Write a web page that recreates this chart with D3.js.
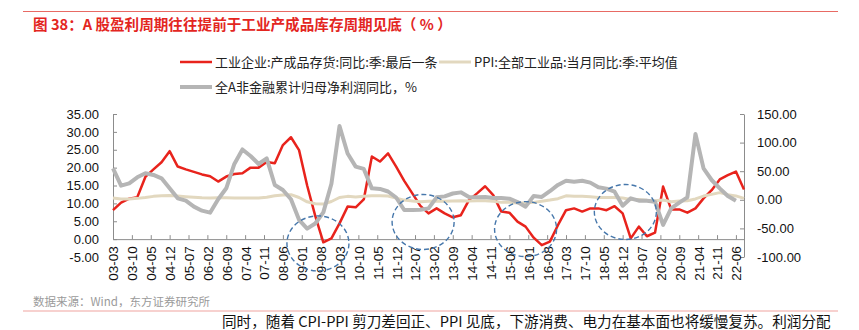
<!DOCTYPE html>
<html>
<head>
<meta charset="utf-8">
<script src="https://cdn.jsdelivr.net/npm/d3@7"></script>
<style>
  html, body { margin: 0; padding: 0; background: #fff; }
  svg { display: block; }
  .cjk { font-family: "Noto Sans CJK SC", "Noto Sans", sans-serif; }
  .num { font-family: "Liberation Sans", Arial, sans-serif; }
</style>
</head>
<body>
<svg id="chart" width="859" height="330"></svg>
<script>
// ---------------- DATA ----------------
const titleText = "图 38：A 股盈利周期往往提前于工业产成品库存周期见底（ % ）";
const seriesNames = ["工业企业:产成品存货:同比:季:最后一条", "PPI:全部工业品:当月同比:季:平均值", "全A非金融累计归母净利润同比，%"];
const sourceText = "数据来源：Wind，东方证券研究所";
const bottomText = "同时，随着 CPI-PPI 剪刀差回正、PPI 见底，下游消费、电力在基本面也将缓慢复苏。利润分配";

// quarterly categories (year-month)
const quarters = [
  "2003-03","2003-06","2003-09","2003-12","2004-03","2004-06","2004-09","2004-12",
  "2005-03","2005-06","2005-09","2005-12","2006-03","2006-06","2006-09","2006-12",
  "2007-03","2007-06","2007-09","2007-12","2008-03","2008-06","2008-09","2008-12",
  "2009-03","2009-06","2009-09","2009-12","2010-03","2010-06","2010-09","2010-12",
  "2011-03","2011-06","2011-09","2011-12","2012-03","2012-06","2012-09","2012-12",
  "2013-03","2013-06","2013-09","2013-12","2014-03","2014-06","2014-09","2014-12",
  "2015-03","2015-06","2015-09","2015-12","2016-03","2016-06","2016-09","2016-12",
  "2017-03","2017-06","2017-09","2017-12","2018-03","2018-06","2018-09","2018-12",
  "2019-03","2019-06","2019-09","2019-12","2020-03","2020-06","2020-09","2020-12",
  "2021-03","2021-06","2021-09","2021-12","2022-03","2022-06","2022-09"
];

// 工业企业:产成品存货:同比 (left axis)
const inventory = [
  8.1,10.2,11.3,11.7,17.4,19.5,21.5,24.6,
  20.3,19.5,18.8,18.1,17.6,16.1,17.5,18.2,
  18.4,20.0,20.0,21.6,21.2,26.3,28.5,24.9,
  15.0,6.5,-0.9,0.2,4.4,9.1,8.9,11.1,
  23.1,21.7,24.0,20.3,16.3,12.8,9.3,7.2,
  8.6,7.2,6.1,6.7,10.9,12.8,14.8,12.3,
  7.7,7.4,4.9,3.5,0.4,-1.7,-0.7,3.9,
  8.1,8.6,7.7,8.6,8.6,8.1,9.2,7.2,
  0.2,3.5,0.8,1.8,14.7,8.3,8.3,7.4,
  8.6,11.4,13.7,16.7,17.9,18.9,13.9
];

// PPI 季平均 (right axis)
const ppi = [
  3,1.5,1.5,2.5,4,6,7,7.5,
  6.5,5.5,4.5,3.5,3,3.5,3.5,3,
  3,3,3,4.5,7,8.5,9,4,
  -3.5,-7,-7.5,-3,4,6,5,6,
  7,7.2,6.5,3,-0.5,-2,-3.5,-2.5,
  -2,-2.5,-2,-1.5,-2,-1.5,-1.5,-2.5,
  -4.5,-4.5,-5.5,-5.5,-4.5,-2.5,-0.5,2,
  7,6,6,5.5,4,4,4,3,
  0.5,0.5,-0.8,-1.5,-0.5,-3.3,-2.2,-1.5,
  1.5,6.5,9.5,12.5,9,6.8,2.5
];

// 全A非金融累计归母净利润同比 (right axis), ends 2022-06
const profit = [
  55,24.7,28.8,39.3,46.3,43.4,37.6,20.1,
  2.6,-1.5,-12,-19,-22.5,0.9,20.1,62.6,
  88,76.6,62.6,72.5,25.9,17.1,1,-35,
  -50.5,-41.5,-22,28,129,81,58,54,
  20,19,14.5,4,-17.8,-18,-17.5,-15,
  4.3,6,11,13,5,4.5,5,3,
  3,2,-4,-12,6.6,5,15,26,
  33.4,31.7,33.4,30,21.8,19.5,14.2,-10.3,
  2.6,-1.5,-1.5,-3.3,-44,-14.9,-5,4.3,
  115,55,34.6,20,6.6,-1.5
];

// x-axis tick labels (every 7 months)
const tickLabels = ["03-03","03-10","04-05","04-12","05-07","06-02","06-09","07-04","07-11","08-06",
  "09-01","09-08","10-03","10-10","11-05","11-12","12-07","13-02","13-09","14-04",
  "14-11","15-06","16-01","16-08","17-03","17-10","18-05","18-12","19-07","20-02",
  "20-09","21-04","21-11","22-06"];

const leftTicks = [-5,0,5,10,15,20,25,30,35];
const rightTicks = [-100,-50,0,50,100,150];

// highlighted troughs (centre date, centre value on left axis)
const troughs = [
  {date:"2009-07", value:-1.2},
  {date:"2012-10", value:4.8},
  {date:"2015-12", value:2.8},
  {date:"2019-01", value:7.6}
];

// ---------------- CHART ----------------
const svg = d3.select("#chart");
const startYear = 2003, startMonth = 3;
function monthIdx(s) {
  const parts = s.split("-");
  let year = +parts[0];
  if (parts[0].length === 2) year += 2000;
  return (year - startYear) * 12 + (+parts[1] - startMonth);
}

const x = d3.scaleLinear().domain([0, monthIdx(quarters[quarters.length - 1])]).range([113, 744]);
const yL = d3.scaleLinear().domain([-5, 35]).range([257, 114]);
const yR = d3.scaleLinear().domain([-100, 150]).range([257, 114]);

const axisColor = "#8c8c8c";
const red = "#e8231c", beige = "#e2d8bf", gray = "#b5b5b5";

// top rule
svg.append("line").attr("x1", 23).attr("x2", 838).attr("y1", 11.5).attr("y2", 11.5)
  .attr("stroke", "#e86a64").attr("stroke-width", 1);

// title
svg.append("text").attr("class", "cjk").attr("x", 33).attr("y", 25).attr("dy", "0.36em")
  .attr("font-size", 14.6).attr("font-weight", "bold").attr("fill", "#e3261f").text(titleText);

// legend
const legendItems = [
  {name: seriesNames[0], color: red, w: 2.5, x: 180, y: 62},
  {name: seriesNames[1], color: beige, w: 3, x: 439, y: 62},
  {name: seriesNames[2], color: gray, w: 4, x: 180, y: 87}
];
legendItems.forEach(d => {
  svg.append("line").attr("x1", d.x).attr("x2", d.x + 32).attr("y1", d.y).attr("y2", d.y)
    .attr("stroke", d.color).attr("stroke-width", d.w);
  svg.append("text").attr("class", "cjk").attr("x", d.x + 35).attr("y", d.y).attr("dy", "0.35em")
    .attr("font-size", 13).attr("fill", "#222").text(d.name);
});

// left axis (line runs from 35 down to the 0 baseline)
const gL = svg.append("g").attr("transform", "translate(113,0)")
  .call(d3.axisLeft(yL).tickValues(leftTicks).tickSizeInner(-4).tickSizeOuter(0).tickPadding(14)
    .tickFormat(v => v.toFixed(2)));
gL.select(".domain").remove();
gL.selectAll(".tick").filter(d => d < 0).select("line").remove();
gL.append("line").attr("x1", 0.5).attr("x2", 0.5).attr("y1", yL(35)).attr("y2", yL(0))
  .attr("stroke", axisColor);
// right axis
const gR = svg.append("g").attr("transform", "translate(744,0)")
  .call(d3.axisRight(yR).tickValues(rightTicks).tickSizeInner(-4).tickSizeOuter(0).tickPadding(13)
    .tickFormat(v => v.toFixed(2)));
[gL, gR].forEach(g => {
  g.selectAll("path, line").attr("stroke", axisColor);
  g.selectAll("text").attr("class", "num").attr("font-size", 13).attr("fill", "#111");
});

// x axis at y=0 of left axis
const tickIdx = tickLabels.map(l => monthIdx(l));
const gX = svg.append("g").attr("transform", `translate(0,${yL(0)})`)
  .call(d3.axisBottom(x).tickValues(tickIdx).tickSizeInner(-4).tickSizeOuter(0)
    .tickFormat((d, i) => tickLabels[i]));
gX.selectAll("path, line").attr("stroke", axisColor);
gX.selectAll("text").attr("class", "num").attr("font-size", 13.5).attr("fill", "#111")
  .attr("transform", "rotate(-90)").attr("text-anchor", "end")
  .attr("x", -7).attr("y", 0).attr("dy", "0.36em");

// series lines
const lineL = d3.line().x((d, i) => x(monthIdx(quarters[i]))).y(d => yL(d));
const lineR = d3.line().x((d, i) => x(monthIdx(quarters[i]))).y(d => yR(d));

svg.append("path").datum(inventory).attr("d", lineL).attr("fill", "none")
  .attr("stroke", red).attr("stroke-width", 2.5).attr("stroke-linejoin", "round");
svg.append("path").datum(ppi).attr("d", lineR).attr("fill", "none")
  .attr("stroke", beige).attr("stroke-width", 3).attr("stroke-linejoin", "round");
svg.append("path").datum(profit).attr("d", lineR).attr("fill", "none")
  .attr("stroke", gray).attr("stroke-width", 4).attr("stroke-linejoin", "round");

// dashed trough circles
svg.selectAll("ellipse.trough").data(troughs).enter().append("ellipse")
  .attr("class", "trough")
  .attr("cx", d => x(monthIdx(d.date))).attr("cy", d => yL(d.value))
  .attr("rx", 31).attr("ry", 27.5)
  .attr("fill", "none").attr("stroke", "#4677ab").attr("stroke-width", 1.4)
  .attr("stroke-dasharray", "5,3");

// source
svg.append("text").attr("class", "cjk").attr("x", 33).attr("y", 302).attr("dy", "0.35em")
  .attr("font-size", 11.5).attr("fill", "#9a9a9a").text(sourceText);
svg.append("line").attr("x1", 23).attr("x2", 838).attr("y1", 311).attr("y2", 311)
  .attr("stroke", "#f0a3a0").attr("stroke-width", 1.2);

// bottom text
svg.append("text").attr("class", "cjk").attr("x", 222).attr("y", 326.5)
  .attr("font-size", 14.6).attr("fill", "#111").text(bottomText);
</script>
</body>
</html>
